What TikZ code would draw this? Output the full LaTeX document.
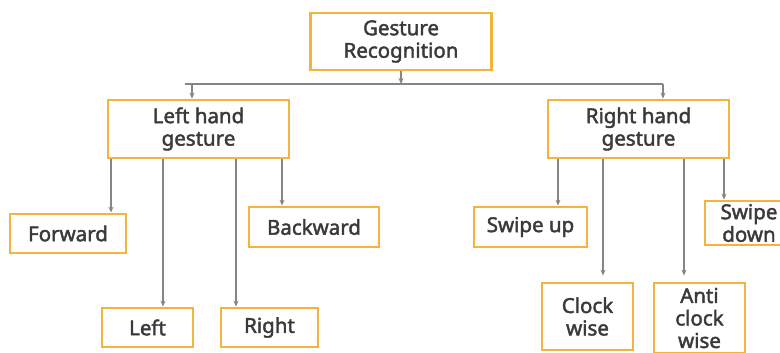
\documentclass[tikz,border=0pt]{standalone}
\usepackage{fontspec}
\setmainfont{Noto Sans}[FakeBold=2]
\usetikzlibrary{arrows.meta}
\definecolor{boxedge}{HTML}{F3B33D}
\definecolor{inkgray}{HTML}{3A3A3A}
\definecolor{wire}{HTML}{858585}
\tikzset{
  box/.style={draw=boxedge, line width=2.8pt, fill=white, text=inkgray,
    align=center, inner sep=0pt,
    font=\fontsize{20.5}{22.5}\selectfont},
  wireline/.style={draw=wire, line width=1.1pt},
  arr/.style={wireline, -{Stealth[length=6pt,width=5pt]}},
}
\begin{document}
\begin{tikzpicture}[x=1pt,y=-1pt]
\useasboundingbox (0,0) rectangle (780,353);
\clip (0,0) rectangle (780,353);

% root and the two hand nodes
\node[box, minimum width=181pt, minimum height=57pt] (gr) at (401,41.5) {Gesture\\Recognition};
\node[box, minimum width=181pt, minimum height=58pt] (lh) at (198.5,129) {Left hand\\gesture};
\node[box, minimum width=181pt, minimum height=58pt] (rh) at (638.5,129) {Right hand\\gesture};

% left hand gestures
\node[box, minimum width=116pt, minimum height=39pt] (fw) at (68,233.5) {Forward};
\node[box, minimum width=130pt, minimum height=40pt] (bw) at (314,227) {Backward};
\node[box, minimum width=91pt, minimum height=39pt] (lf) at (147.5,327.5) {Left};
\node[box, minimum width=97pt, minimum height=39pt] (rt) at (269.5,327.5) {Right};

% right hand gestures
\node[box, minimum width=113pt, minimum height=40pt] (su) at (530.5,227) {Swipe up};
\node[box, minimum width=88pt, minimum height=44pt] (sd) at (749,223) {Swipe\\down};
\node[box, minimum width=91pt, minimum height=67pt] (cw) at (587.5,316.5) {Clock\\wise};
\node[box, minimum width=91pt, minimum height=70pt] (acw) at (699.5,318) {Anti\\clock\\wise};

% bus under the root
\coordinate (busL) at (185,84);
\coordinate (busR) at (663,84);
\coordinate (dropL) at (192,84);
\draw[arr] (gr.south) -- (gr.south |- busL);
\draw[wireline] (busL) -- (busR);
\draw[arr] (dropL) -- (dropL |- lh.north);
\draw[arr] (busR) -- (busR |- rh.north);

% branches of the left hand node
\coordinate (xf) at (111,0);
\coordinate (xl) at (163,0);
\coordinate (xr) at (236,0);
\coordinate (xb) at (282,0);
\draw[arr] (xf |- lh.south) -- (xf |- fw.north);
\draw[arr] (xl |- lh.south) -- (xl |- lf.north);
\draw[arr] (xr |- lh.south) -- (xr |- rt.north);
\draw[arr] (xb |- lh.south) -- (xb |- bw.north);

% branches of the right hand node
\coordinate (xsu) at (558,0);
\coordinate (xcw) at (603,0);
\coordinate (xacw) at (684,0);
\coordinate (xsd) at (724,0);
\draw[arr] (xsu |- rh.south) -- (xsu |- su.north);
\draw[arr, shorten >=6pt] (xcw |- rh.south) -- (xcw |- cw.north);
\draw[arr, shorten >=6pt] (xacw |- rh.south) -- (xacw |- acw.north);
\draw[arr] (xsd |- rh.south) -- (xsd |- sd.north);
\end{tikzpicture}
\end{document}
